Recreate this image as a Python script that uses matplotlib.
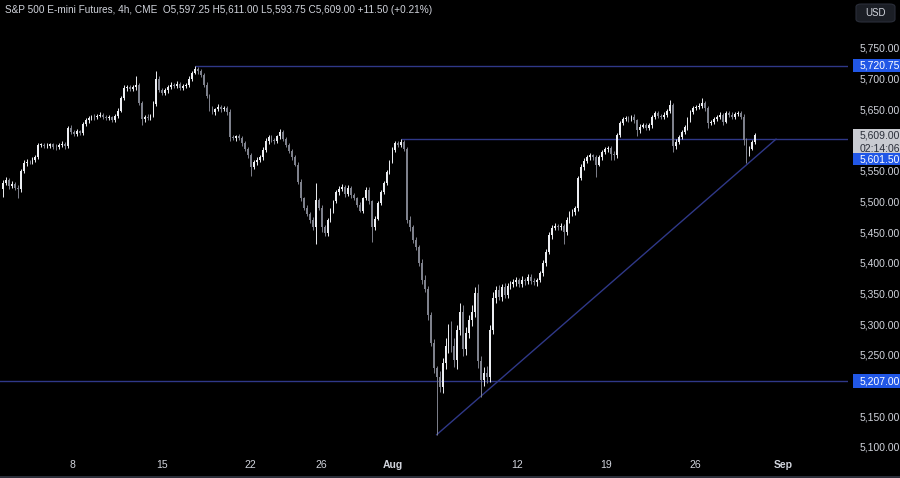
import matplotlib.pyplot as plt
import matplotlib.transforms as mtransforms
from matplotlib.patches import Rectangle, FancyBboxPatch

# ES 4h candles (open = previous close)
first_open = 5520.0
closes = [
    5530, 5535, 5525, 5528, 5522, 5520, 5550, 5562, 5565, 5564,
    5568, 5572, 5592, 5592, 5590, 5591, 5593, 5589, 5588, 5592,
    5594, 5590, 5620, 5613, 5610, 5614, 5612, 5626, 5632, 5636,
    5638, 5637, 5640, 5641, 5638, 5636, 5637, 5633, 5640, 5648,
    5669, 5684, 5686, 5683, 5686, 5690, 5660, 5634, 5638, 5636,
    5640, 5658, 5700, 5682, 5677, 5681, 5686, 5690, 5688, 5692,
    5685, 5688, 5690, 5700, 5710, 5716, 5712, 5706, 5690, 5672,
    5652, 5645, 5650, 5654, 5650, 5652, 5645, 5605, 5603, 5606,
    5603, 5595, 5585, 5575, 5556, 5564, 5568, 5572, 5584, 5598,
    5605, 5600, 5598, 5606, 5613, 5602, 5592, 5582, 5572, 5560,
    5532, 5505, 5490, 5480, 5470, 5458, 5502, 5490, 5458, 5448,
    5470, 5485, 5500, 5515, 5520, 5524, 5512, 5522, 5510, 5505,
    5495, 5485, 5505, 5519, 5500, 5458, 5472, 5498, 5515, 5530,
    5548, 5565, 5584, 5595, 5592, 5597, 5585, 5470, 5458, 5437,
    5425, 5400, 5372, 5358, 5315, 5270, 5228, 5214, 5198, 5237,
    5265, 5290, 5265, 5242, 5290, 5320, 5260, 5285, 5307, 5320,
    5351, 5240, 5209, 5220, 5214, 5290, 5343, 5356, 5345, 5361,
    5348, 5362, 5366, 5368, 5372, 5365, 5372, 5370, 5377, 5370,
    5368, 5372, 5383, 5400, 5418, 5445, 5457, 5460, 5458, 5460,
    5450, 5470, 5481, 5483, 5489, 5538, 5556, 5566, 5572, 5575,
    5572, 5560, 5572, 5580, 5585, 5587, 5578, 5575, 5608, 5628,
    5634, 5636, 5634, 5638, 5632, 5616, 5622, 5624, 5620, 5624,
    5637, 5644, 5640, 5638, 5641, 5648, 5657, 5590, 5597, 5605,
    5613, 5621, 5633, 5646, 5652, 5654, 5656, 5660, 5652, 5628,
    5630, 5634, 5638, 5641, 5630, 5644, 5641, 5638, 5642, 5644,
    5638, 5600, 5578, 5586, 5597.25, 5609,
]
# wick length above / below the body, in points
wick_up = [
    5, 4, 3, 5, 3, 4, 3, 5, 4, 3,
    4, 3, 3, 4, 3, 4, 3, 3, 4, 3,
    4, 3, 3, 4, 3, 4, 3, 3, 4, 3,
    3, 4, 3, 4, 3, 3, 4, 3, 3, 4,
    3, 6, 4, 3, 4, 15, 3, 4, 3, 4,
    3, 5, 12, 4, 3, 4, 3, 4, 3, 4,
    3, 4, 3, 4, 3, 4.75, 3, 4, 3, 4,
    3, 4, 3, 4, 3, 4, 3, 5, 4, 3,
    4, 3, 4, 3, 4, 3, 4, 3, 4, 5,
    4, 3, 4, 3, 5, 4, 3, 4, 3, 4,
    5, 4, 3, 4, 3, 4, 28, 4, 5, 4,
    3, 4, 3, 4, 5, 4, 3, 4, 3, 4,
    3, 4, 3, 5, 4, 3, 4, 3, 4, 3,
    4, 3, 4, 3, 4, 4.5, 3, 4, 6, 4,
    5, 4, 6, 8, 4, 5, 6, 4, 10, 8,
    12, 10, 15, 12, 8, 15, 12, 10, 8, 12,
    10, 15, 8, 10, 12, 8, 10, 6, 8, 5,
    6, 5, 4, 6, 5, 4, 6, 4, 5, 4,
    5, 4, 4, 5, 4, 6, 4, 5, 4, 5,
    4, 5, 4, 5, 4, 4, 5, 4, 3, 4,
    3, 4, 3, 4, 3, 4, 3, 4, 4, 3,
    4, 3, 4, 3, 4, 3, 4, 3, 4, 3,
    4, 3, 4, 3, 4, 3, 8, 3, 4, 3,
    4, 3, 4, 3, 4, 3, 4, 8, 3, 4,
    3, 4, 3, 4, 3, 4, 3, 4, 3, 4,
    3, 4, 3, 4, 3, 2,
]
wick_dn = [
    12, 4, 5, 3, 4, 15, 4, 3, 4, 3,
    3, 4, 3, 4, 3, 3, 4, 3, 4, 3,
    3, 4, 3, 3, 4, 3, 4, 3, 3, 4,
    3, 4, 3, 3, 4, 3, 4, 3, 3, 4,
    3, 3, 4, 3, 3, 4, 3, 10, 4, 3,
    4, 3, 3, 4, 3, 3, 4, 3, 3, 4,
    3, 4, 3, 3, 4, 3, 4, 3, 4, 3,
    4, 3, 4, 3, 4, 3, 4, 6, 3, 4,
    3, 4, 3, 4, 15, 3, 4, 3, 4, 3,
    4, 3, 4, 3, 4, 3, 4, 3, 4, 3,
    4, 5, 4, 3, 5, 4, 28, 4, 8, 5,
    4, 3, 4, 3, 4, 3, 4, 3, 4, 3,
    4, 3, 4, 3, 4, 24, 4, 3, 4, 3,
    3, 4, 3, 4, 3, 4, 3, 5, 6, 5,
    4, 5, 6, 5, 8, 6, 8, 94, 8, 10,
    10, 12, 10, 12, 15, 8, 12, 10, 8, 10,
    8, 12, 27, 10, 10, 8, 6, 8, 6, 8,
    5, 6, 4, 5, 6, 4, 5, 6, 4, 5,
    4, 5, 4, 4, 5, 4, 6, 4, 5, 4,
    20, 4, 5, 4, 5, 4, 3, 4, 3, 4,
    4, 20, 3, 4, 3, 4, 10, 8, 4, 3,
    4, 3, 4, 3, 4, 10, 4, 3, 4, 3,
    4, 3, 4, 3, 4, 3, 4, 9, 4, 3,
    4, 3, 4, 3, 4, 3, 4, 3, 4, 8,
    3, 4, 3, 4, 5, 3, 4, 3, 4, 3,
    4, 8, 16, 4, 3, 3.5,
]

# drawn levels and trend line
levels = [5720.75, 5601.50, 5207.00]
level_from = [65, 135, -2]
trend_x = [147, 262]
trend_y = [5120.0, 5601.5]

# right scale (5,200 sits under the 5,207 label, so it is not shown)
price_ticks = [5100, 5150, 5250, 5300, 5350, 5400, 5450, 5500,
               5550, 5650, 5700, 5750]

time_labels = ['8', '15', '22', '26', 'Aug', '12', '19', '26', 'Sep']
time_pos = [23.7, 53.9, 83.7, 107.8, 132.2, 174.2, 204.4, 234.6, 264.4]

title = ('S&P 500 E-mini Futures, 4h, CME  O5,597.25 H5,611.00 '
         'L5,593.75 C5,609.00 +11.50 (+0.21%)')

up_col = '#eceef2'
dn_col = '#7e818c'
line_col = '#2f3888'
txt_col = '#d1d4dc'
blue = '#2157e6'
FONT = ['Liberation Sans', 'DejaVu Sans']

plt.rcParams['font.family'] = FONT

fig = plt.figure(figsize=(9, 4.78), dpi=100, facecolor='black')
ax = fig.add_axes([0, 23 / 478, 848 / 900, 425 / 478])
ax.set_facecolor('black')

y0, y1 = 5086.9, 5779.3
ax.set_xlim(-1.0, 286.4)
ax.set_ylim(y0, y1)

opens = [first_open] + closes[:-1]
idx = list(range(len(closes)))
highs = [max(o, c) + w for o, c, w in zip(opens, closes, wick_up)]
lows = [min(o, c) - w for o, c, w in zip(opens, closes, wick_dn)]
cols = [up_col if c >= o else dn_col for o, c in zip(opens, closes)]

ax.vlines(idx, lows, highs, colors=cols, linewidth=0.7, zorder=3)
ax.bar(idx, [max(abs(c - o), 0.9) for o, c in zip(opens, closes)],
       bottom=[min(o, c) for o, c in zip(opens, closes)],
       width=0.62, color=cols, linewidth=0, zorder=3)

# horizontal levels + rising trend line
for lv, x_from in zip(levels, level_from):
    ax.hlines(lv, x_from, 300, colors=line_col, linewidth=1.0, zorder=2)
ax.plot(trend_x, trend_y, color=line_col, linewidth=1.0, zorder=2)

for s in ax.spines.values():
    s.set_visible(False)

ax.yaxis.tick_right()
ax.set_yticks(price_ticks)
ax.set_yticklabels([f'{v:,.2f}' for v in price_ticks])
ax.tick_params(axis='y', length=0, pad=8.5, labelsize=7.5, labelcolor=txt_col)

ax.set_xticks(time_pos)
ax.set_xticklabels(time_labels)
ax.tick_params(axis='x', length=0, pad=3.5, labelsize=7.5, labelcolor=txt_col)
for lab in ax.get_xticklabels():
    if lab.get_text() in ('Aug', 'Sep'):
        lab.set_fontweight('bold')

# price labels on the right scale
tr = mtransforms.blended_transform_factory(fig.transFigure, ax.transData)
pt_px = (y1 - y0) / 425


def price_box(yc, text, face, tcol, h_px=13):
    ax.add_patch(Rectangle((853 / 900, yc - h_px / 2 * pt_px), 47 / 900, h_px * pt_px,
                           transform=tr, facecolor=face, edgecolor='none',
                           clip_on=False, zorder=6))
    ax.text(860 / 900, yc, text, transform=tr, ha='left', va='center',
            fontsize=7.5, color=tcol, zorder=7, linespacing=1.45)


price_box(levels[0], '5,720.75', blue, 'white')
price_box(5609.0 - 7.5 * pt_px, '5,609.00\n02:14:06', '#c9cbd1', '#2a2e39', h_px=26)
price_box(levels[1] - 20 * pt_px, '5,601.50', blue, 'white', h_px=12)
price_box(levels[2], '5,207.00', blue, 'white', h_px=14)

fig.text(5 / 900, 1 - 10 / 478, title, ha='left', va='center',
         fontsize=7.2, color=txt_col)

# USD button
fig.patches.append(FancyBboxPatch((856 / 900, 1 - 22 / 478), 39 / 900, 18 / 478,
                                  boxstyle='round,pad=0,rounding_size=0.006',
                                  transform=fig.transFigure, facecolor='#1b1e25',
                                  edgecolor='#2a2e39', linewidth=0.8))
fig.text(875.5 / 900, 1 - 13 / 478, 'USD', ha='center', va='center',
         fontsize=7, color=txt_col)

fig.patches.append(Rectangle((0, 0), 1, 2 / 478, transform=fig.transFigure,
                             facecolor='#2a2e39', edgecolor='none'))

fig.savefig('out.png', dpi=100, facecolor='black')
